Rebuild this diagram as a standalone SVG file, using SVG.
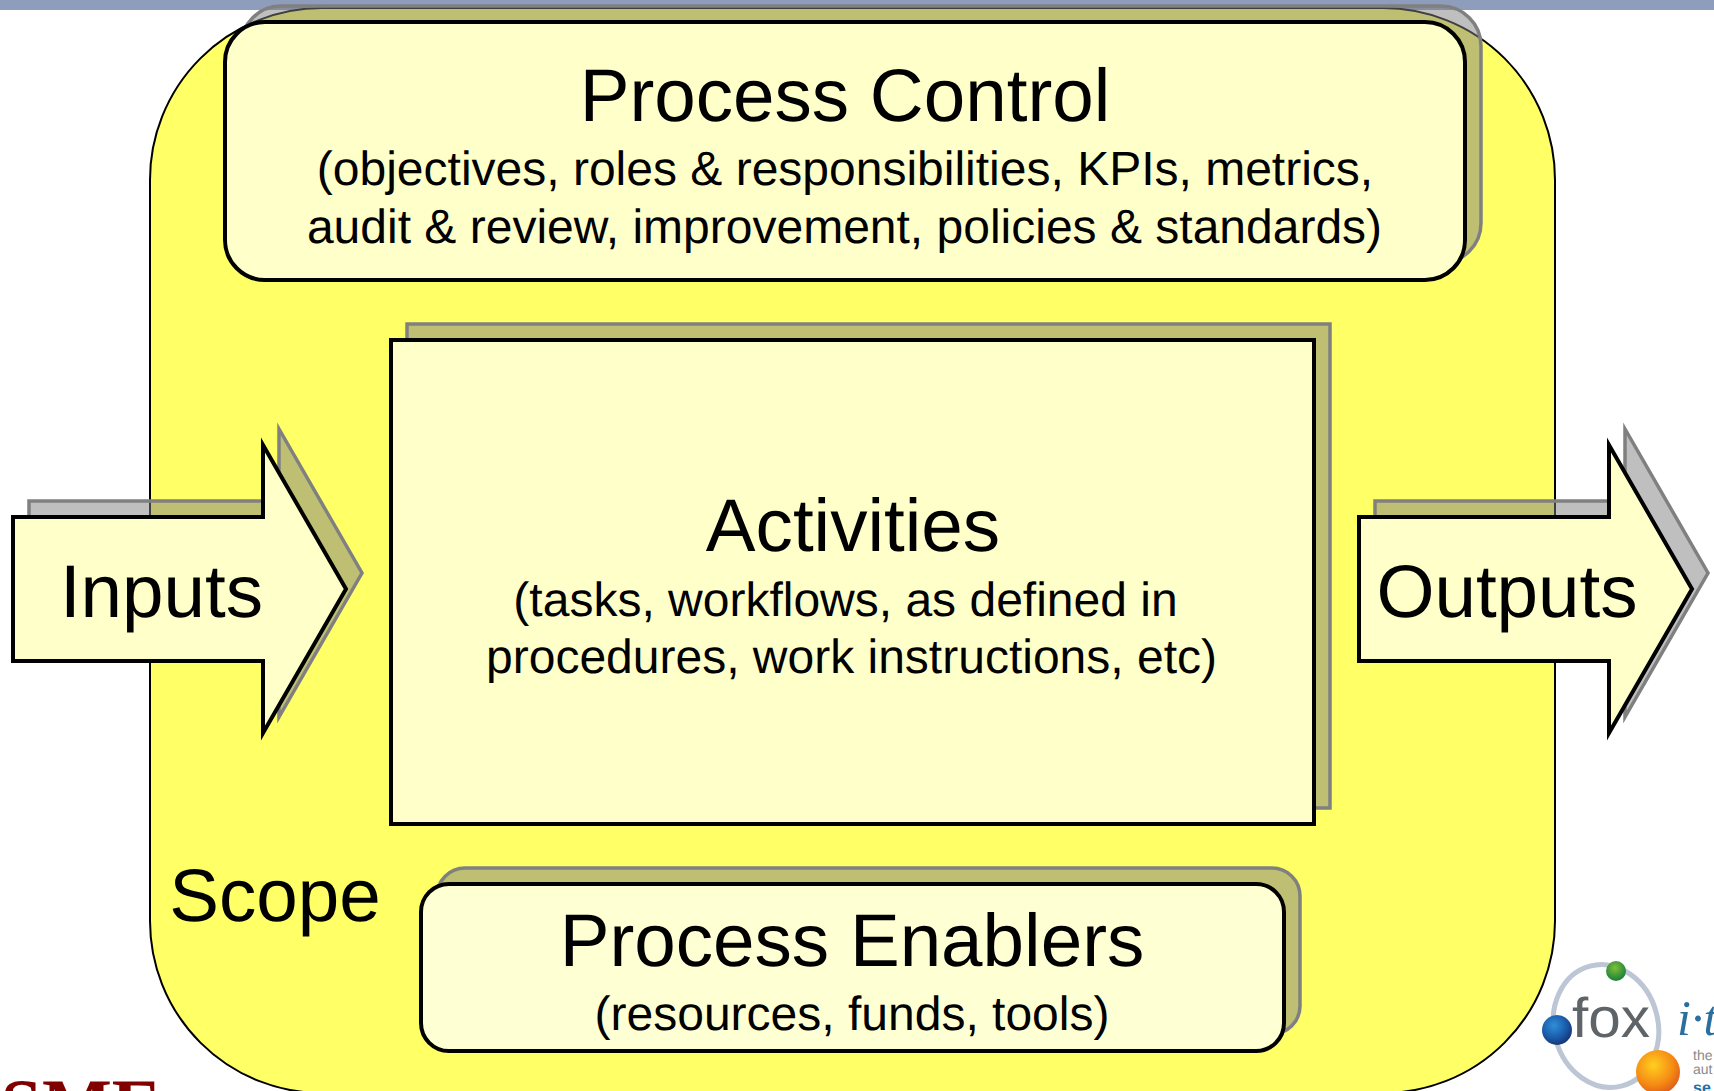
<svg xmlns="http://www.w3.org/2000/svg" width="1714" height="1091" viewBox="0 0 1714 1091">
<defs>
<style>
text{font-family:"Liberation Sans",Arial,sans-serif;fill:#000;text-anchor:middle;text-rendering:geometricPrecision}
.shadow{fill:#808080;fill-opacity:.5;stroke:#808080;stroke-width:3.5}
.face{fill:#ffffca;stroke:#000;stroke-width:4}
.h{font-size:74.6px}
.s{font-size:48px}
</style>
<radialGradient id="gb" cx=".4" cy=".35" r=".7"><stop offset="0" stop-color="#2f8fd8"/><stop offset=".6" stop-color="#1a5aa8"/><stop offset="1" stop-color="#17306f"/></radialGradient>
<radialGradient id="gg" cx=".45" cy=".35" r=".7"><stop offset="0" stop-color="#7fbf3a"/><stop offset="1" stop-color="#0f7a3a"/></radialGradient>
<radialGradient id="go" cx=".4" cy=".35" r=".75"><stop offset="0" stop-color="#ffcf1f"/><stop offset=".6" stop-color="#f58a14"/><stop offset="1" stop-color="#d8501a"/></radialGradient>
</defs>
<rect id="top-band" x="0" y="0" width="1714" height="10" fill="#8f9dbd"/>
<g id="sme"><text x="81" y="1130" style="font-family:'Liberation Serif',serif;font-size:74px;font-weight:bold;fill:#800000">SME</text></g>
<g id="logo">
<ellipse cx="1606" cy="1026" rx="52" ry="62" transform="rotate(-15 1606 1026)" fill="none" stroke="#bcc6d4" stroke-width="5"/>
<text x="1611" y="1037" style="font-size:56px;fill:#5f6468" textLength="78" lengthAdjust="spacingAndGlyphs">fox</text>
<circle cx="1616" cy="971" r="10" fill="url(#gg)"/>
<circle cx="1557" cy="1030" r="15" fill="url(#gb)"/>
<circle cx="1658" cy="1072" r="22" fill="url(#go)"/>
<text x="1677" y="1035" style="font-family:'Liberation Serif',serif;font-style:italic;font-size:50px;fill:#2a6f9e;text-anchor:start">i·t</text>
<text x="1693" y="1060" style="font-size:14px;fill:#8a8a8a;text-anchor:start">the</text>
<text x="1693" y="1074" style="font-size:14px;fill:#8a8a8a;text-anchor:start">aut</text>
<text x="1693" y="1093" style="font-size:16px;font-weight:bold;fill:#1f6fa8;text-anchor:start">se</text>
</g>
<g id="scope">
<rect x="150" y="8" width="1405" height="1085" rx="172" ry="172" fill="#ffff66" stroke="#000" stroke-width="2"/>
<text x="275" y="921" class="h">Scope</text>
</g>
<g id="process-control">
<rect class="shadow" x="241" y="6" width="1240" height="257" rx="40"/>
<rect class="face" x="225" y="22" width="1240" height="258" rx="40"/>
<text x="845" y="121" class="h">Process Control</text>
<text x="845" y="185" class="s">(objectives, roles &amp; responsibilities, KPIs, metrics,</text>
<text x="844.5" y="243" class="s">audit &amp; review, improvement, policies &amp; standards)</text>
</g>
<g id="activities">
<rect class="shadow" x="407" y="324" width="923" height="484"/>
<rect class="face" x="391" y="340" width="923" height="484"/>
<text x="853" y="551" class="h">Activities</text>
<text x="845.5" y="616" class="s">(tasks, workflows, as defined in</text>
<text x="851.5" y="673" class="s">procedures, work instructions, etc)</text>
</g>
<g id="process-enablers">
<rect class="shadow" x="437" y="868" width="863" height="166" rx="28"/>
<rect class="face" style="fill:#ffffd4" x="421" y="884" width="863" height="167" rx="28"/>
<text x="852" y="966" class="h">Process Enablers</text>
<text x="852" y="1030" class="s">(resources, funds, tools)</text>
</g>
<g id="inputs">
<path class="shadow" d="M29 501H279V429L362 573L279 717V645H29Z"/>
<path class="face" d="M13 517H263V445L346 589L263 733V661H13Z"/>
<text x="161.5" y="617" class="h">Inputs</text>
</g>
<g id="outputs">
<path class="shadow" d="M1375 501H1625V429L1708 573L1625 717V645H1375Z"/>
<path class="face" d="M1359 517H1609V445L1692 589L1609 733V661H1359Z"/>
<text x="1507" y="617" class="h">Outputs</text>
</g>
<g id="connectors"></g>
</svg>
